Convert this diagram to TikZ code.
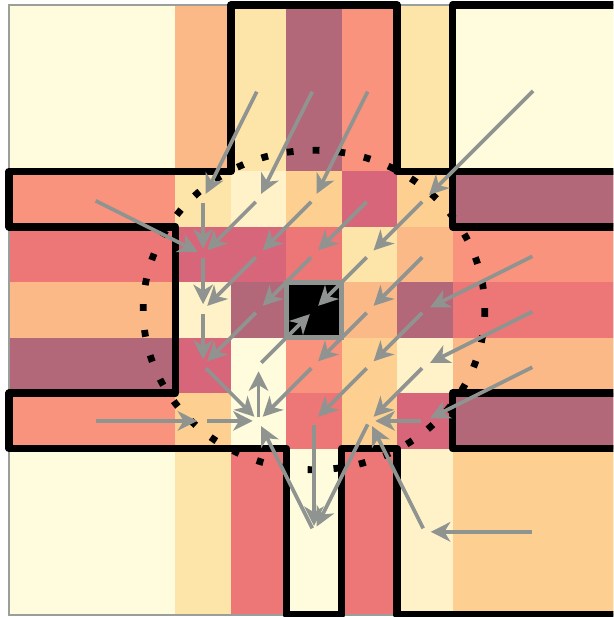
\documentclass[tikz,border=0pt]{standalone}
\usepackage{tikz}
\usetikzlibrary{arrows.meta}
\definecolor{cPale}{HTML}{FFFCDD}
\definecolor{cCream}{HTML}{FFF2C8}
\definecolor{cTan}{HTML}{FDE4A8}
\definecolor{cLpeach}{HTML}{FDD092}
\definecolor{cPeach}{HTML}{FBB988}
\definecolor{cSalmon}{HTML}{F9937D}
\definecolor{cCoral}{HTML}{ED7677}
\definecolor{cPink}{HTML}{D8667A}
\definecolor{cMauve}{HTML}{B3687A}
\definecolor{flowgray}{HTML}{8F9491}

\begin{document}
\begin{tikzpicture}[x=1cm, y=-1cm, >={Stealth[length=10pt, width=10pt, inset=3pt]},
    wall/.style={line width=3.8pt, line join=round, line cap=round},
    flow/.style={->, draw=flowgray, line width=1.9pt, shorten <=2pt, shorten >=3pt},
    ring/.style={line width=3.5pt, dash pattern=on 3.5pt off 9.8pt}]
        \clip (-0.162,-0.09) rectangle (10.9,11.036);
        \foreach \i in {0,...,10} \foreach \j in {0,...,10} \coordinate (c\i-\j) at (\i+.5,\j+.5);
        % outer blocks
        \fill[cPale] (0,0) rectangle (3,3);
        \fill[cPeach] (3,0) rectangle (4,3);
        \fill[cTan] (4,0) rectangle (5,3);
        \fill[cMauve] (5,0) rectangle (6,3);
        \fill[cSalmon] (6,0) rectangle (7,3);
        \fill[cTan] (7,0) rectangle (8,3);
        \fill[cPale] (8,0) rectangle (11,3);
        \fill[cSalmon] (0,3) rectangle (3,4);
        \fill[cCoral] (0,4) rectangle (3,5);
        \fill[cPeach] (0,5) rectangle (3,6);
        \fill[cMauve] (0,6) rectangle (3,7);
        \fill[cSalmon] (0,7) rectangle (3,8);
        \fill[cPale] (0,8) rectangle (3,11);
        \fill[cMauve] (8,3) rectangle (11,4);
        \fill[cSalmon] (8,4) rectangle (11,5);
        \fill[cCoral] (8,5) rectangle (11,6);
        \fill[cPeach] (8,6) rectangle (11,7);
        \fill[cMauve] (8,7) rectangle (11,8);
        \fill[cLpeach] (8,8) rectangle (11,11);
        \fill[cTan] (3,8) rectangle (4,11);
        \fill[cCoral] (4,8) rectangle (5,11);
        \fill[cPale] (5,8) rectangle (6,11);
        \fill[cCoral] (6,8) rectangle (7,11);
        \fill[cCream] (7,8) rectangle (8,11);
        % inner cells
        \fill[cTan] (3,3) rectangle (4,4);
        \fill[cCream] (4,3) rectangle (5,4);
        \fill[cLpeach] (5,3) rectangle (6,4);
        \fill[cPink] (6,3) rectangle (7,4);
        \fill[cLpeach] (7,3) rectangle (8,4);
        \fill[cPink] (3,4) rectangle (5,5);
        \fill[cCoral] (5,4) rectangle (6,5);
        \fill[cTan] (6,4) rectangle (7,5);
        \fill[cPeach] (7,4) rectangle (8,5);
        \fill[cCream] (3,5) rectangle (4,6);
        \fill[cMauve] (4,5) rectangle (5,6);
        \fill[cPeach] (6,5) rectangle (7,6);
        \fill[cMauve] (7,5) rectangle (8,6);
        \fill[cPink] (3,6) rectangle (4,7);
        \fill[cPale] (4,6) rectangle (5,8);
        \fill[cSalmon] (5,6) rectangle (6,7);
        \fill[cLpeach] (6,6) rectangle (7,7);
        \fill[cCream] (7,6) rectangle (8,7);
        \fill[cLpeach] (3,7) rectangle (4,8);
        \fill[cCoral] (5,7) rectangle (6,8);
        \fill[cLpeach] (6,7) rectangle (7,8);
        \fill[cPink] (7,7) rectangle (8,8);
        \draw[flowgray!90, line width=0.8pt] (0,0) rectangle (11,11);
        \draw[fill=black, draw=flowgray, line width=2.6pt] (5,5) rectangle (6,6);
        % walls
        \draw[wall] (11,3) -- (7,3) -- (7,0) -- (4,0) -- (4,3) -- (0,3) -- (0,4) -- (3,4) -- (3,7)
            -- (0,7) -- (0,8) -- (5,8) -- (5,11) -- (6,11) -- (6,8) -- (7,8) -- (7,11) -- (11,11);
        \draw[wall] (11,0) -- (8,0) -- (8,4) -- (11,4);
        \draw[wall] (11,7) -- (8,7) -- (8,8) -- (11,8);
        \draw[ring] (5.5,5.5) ellipse [x radius=3.08, y radius=2.88];
        % flow
        \draw[flow] (c4-1) -- (c3-3);
        \draw[flow] (c5-1) -- (c4-3);
        \draw[flow] (c6-1) -- (c5-3);
        \draw[flow] (c9-1) -- (c7-3);
        \draw[flow] (c1-3) -- (c3-4);
        \draw[flow] (c1-7) -- (c3-7);
        \draw[flow] (c9-4) -- (c7-5);
        \draw[flow] (c9-5) -- (c7-6);
        \draw[flow] (c9-6) -- (c7-7);
        \draw[flow] (c9-9) -- (c7-9);
        \draw[flow] (c5-9) -- (c4-7);
        \draw[flow] (c7-9) -- (c6-7);
        \draw[flow] (c5-7) -- (c5-9);
        \draw[flow] (c6-7) -- (c5-9);
        \draw[flow] (c3-3) -- (c3-4);
        \draw[flow] (c4-3) -- (c3-4);
        \draw[flow] (c5-3) -- (c4-4);
        \draw[flow] (c6-3) -- (c5-4);
        \draw[flow] (c7-3) -- (c6-4);
        \draw[flow] (c3-4) -- (c3-5);
        \draw[flow] (c4-4) -- (c3-5);
        \draw[flow] (c5-4) -- (c4-5);
        \draw[flow] (c6-4) -- (c5-5);
        \draw[flow] (c7-4) -- (c6-5);
        \draw[flow] (c3-5) -- (c3-6);
        \draw[flow] (c4-5) -- (c3-6);
        \draw[flow] (c6-5) -- (c5-6);
        \draw[flow] (c7-5) -- (c6-6);
        \draw[flow] (c3-6) -- (c4-7);
        \draw[flow] (c4-6) -- (c5-5);
        \draw[flow] (c5-6) -- (c4-7);
        \draw[flow] (c6-6) -- (c5-7);
        \draw[flow] (c7-6) -- (c6-7);
        \draw[flow] (c3-7) -- (c4-7);
        \draw[flow] (c4-7) -- (c4-6);
        \draw[flow] (c7-7) -- (c6-7);
      \end{tikzpicture}
\end{document}
